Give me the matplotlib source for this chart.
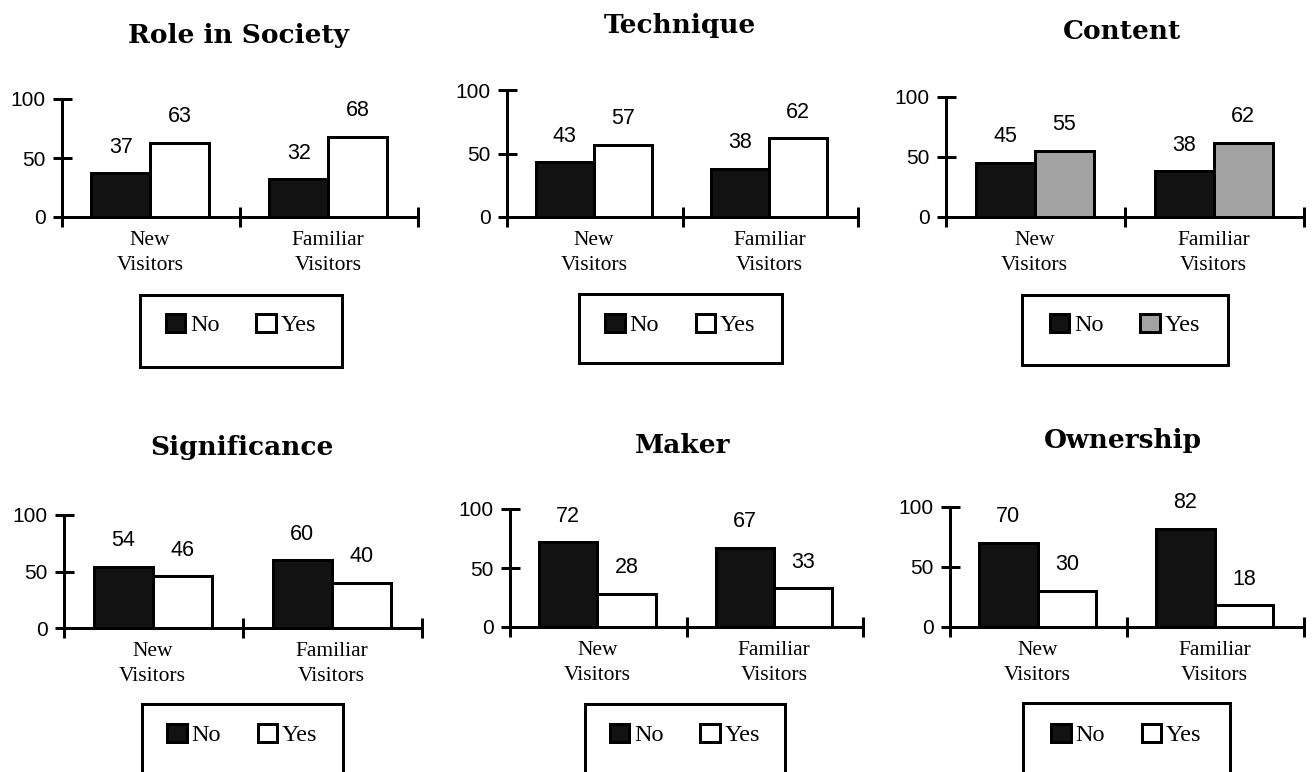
import matplotlib
matplotlib.use("Agg")
import matplotlib.pyplot as plt
from matplotlib.patches import Rectangle

# ---- data -------------------------------------------------------------
titles = ["Role in Society", "Technique", "Content",
          "Significance", "Maker", "Ownership"]
groups = ["New\nVisitors", "Familiar\nVisitors"]
series = ["No", "Yes"]
# percentages per panel: [New Visitors, Familiar Visitors]
no_share = [[37, 32], [43, 38], [45, 38], [54, 60], [72, 67], [70, 82]]
yes_share = [[63, 68], [57, 62], [55, 62], [46, 40], [28, 33], [30, 18]]
yticks = [0, 50, 100]

# ---- layout (pixels on a 1312 x 772 canvas) ---------------------------
W, H = 1312, 772
# y-axis x, axis end x, y of 0, y of 100, title centre x, title baseline y
panel_geom = [
    (62, 418, 217, 99, 239, 43),
    (507, 858, 217, 90, 680, 33),
    (946, 1304, 217, 97, 1122, 39),
    (64, 422, 628, 515, 242, 455),
    (510, 863, 627, 509, 683, 453),
    (950, 1304, 627, 507, 1123, 448),
]
# legend frame: left, top, right, bottom; legend row centre y
legend_geom = [
    (140, 295, 342, 367, 325),
    (579, 294, 782, 363, 325),
    (1022, 295, 1228, 365, 325),
    (142, 704, 343, 790, 735),
    (585, 704, 785, 790, 735),
    (1023, 703, 1230, 790, 735),
]
no_color = "#121212"
yes_colors = ["white", "white", "#a2a2a2", "white", "white", "white"]

PX = 0.72  # points per pixel at 100 dpi
LW = 3 * PX
serif = "Liberation Serif"
sans = "Liberation Sans"


def fx(px):
    return px / W


def fy(py):
    return 1 - py / H


fig = plt.figure(figsize=(W / 100, H / 100), dpi=100)
fig.patch.set_facecolor("white")

bar_w = 0.33
centers = [0.495, 1.495]

for i, title in enumerate(titles):
    x0, x2, yb, yt, tx, ty = panel_geom[i]
    ax = fig.add_axes([fx(x0), fy(yb), (x2 - x0) / W, (yb - yt) / H])
    ax.set_facecolor("none")
    ax.set_xlim(0, 2)
    ax.set_ylim(0, 100)

    xs_no = [c - bar_w / 2 for c in centers]
    xs_yes = [c + bar_w / 2 for c in centers]
    b_no = ax.bar(xs_no, no_share[i], width=bar_w, color=no_color,
                  edgecolor="black", linewidth=LW, label=series[0], zorder=3)
    b_yes = ax.bar(xs_yes, yes_share[i], width=bar_w, color=yes_colors[i],
                   edgecolor="black", linewidth=LW, label=series[1], zorder=3)

    for bars, vals in ((b_no, no_share[i]), (b_yes, yes_share[i])):
        for rect, v in zip(bars, vals):
            ax.annotate(f"{v}", xy=(rect.get_x() + rect.get_width() / 2, v),
                        xytext=(0, 26 * PX), textcoords="offset points",
                        ha="center", va="center", fontsize=15.5,
                        family=sans, color="black")

    for c, g in zip(centers, groups):
        ax.annotate(g, xy=(c, 0), xytext=(0, -14 * PX),
                    textcoords="offset points", ha="center", va="top",
                    fontsize=15.5, family=serif, linespacing=1.4)

    for side in ("top", "right"):
        ax.spines[side].set_visible(False)
    ax.spines["left"].set_bounds(0, 100)
    ax.spines["bottom"].set_bounds(0, 2)
    for side in ("left", "bottom"):
        ax.spines[side].set_linewidth(LW)
        ax.spines[side].set_zorder(4)
    ax.set_yticks(yticks)
    ax.set_yticklabels([str(t) for t in yticks], family=sans, fontsize=15)
    ax.set_xticks([0, 1, 2])
    ax.set_xticklabels([])
    ax.tick_params(axis="y", direction="inout", length=19 * PX,
                   width=LW, pad=7 * PX)
    ax.tick_params(axis="x", direction="inout", length=20 * PX, width=LW)

    fig.text(fx(tx), fy(ty), title, ha="center", va="baseline",
             fontsize=19, fontweight="bold", family="DejaVu Serif")

    lx0, ly0, lx1, ly1, lyc = legend_geom[i]
    fig.add_artist(Rectangle((fx(lx0), fy(ly1)), (lx1 - lx0) / W,
                             (ly1 - ly0) / H, transform=fig.transFigure,
                             fill=False, edgecolor="black", linewidth=LW))
    fig.legend(handles=[b_no, b_yes], labels=series, ncol=2,
               loc="center", bbox_to_anchor=(fx((lx0 + lx1) / 2), fy(lyc)),
               frameon=False, prop={"family": serif, "size": 17.5},
               handlelength=0.8, handleheight=0.8, handletextpad=0.2,
               columnspacing=1.5, borderpad=0)

fig.savefig("out.png", dpi=100, facecolor="white")
